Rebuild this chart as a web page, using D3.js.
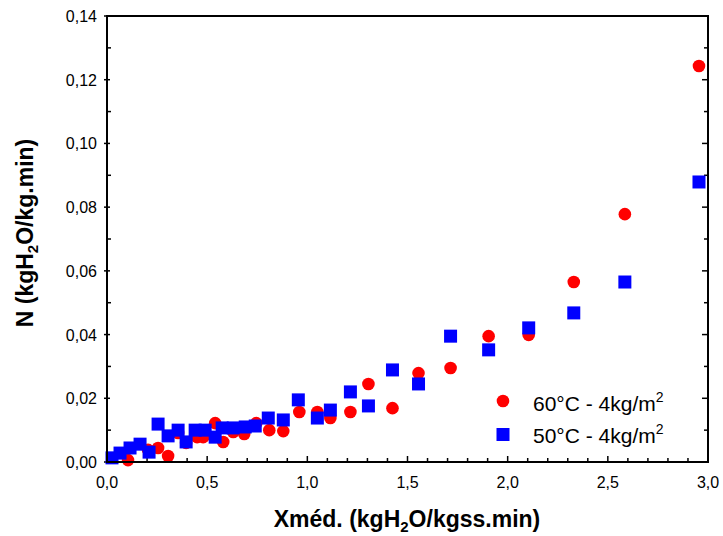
<!DOCTYPE html>
<html>
<head>
<meta charset="utf-8">
<script src="https://cdn.jsdelivr.net/npm/d3@7"></script>
<style>
  body { margin: 0; background: #fff; }
  svg { display: block; font-family: "Liberation Sans", Arial, sans-serif; }
</style>
</head>
<body>
<div id="chart"></div>
<script>
// values
const redX = [0.105, 0.205, 0.255, 0.305, 0.355, 0.395, 0.45, 0.48, 0.54, 0.58, 0.63, 0.685, 0.745, 0.81, 0.88,
  0.96, 1.05, 1.115, 1.215, 1.305, 1.425, 1.555, 1.715, 1.905, 2.105, 2.33, 2.585, 2.955];
const redY = [0.0006, 0.0038, 0.0044, 0.0019, 0.0091, 0.0060, 0.0078, 0.0078, 0.0122, 0.0063, 0.0094, 0.0088, 0.0122, 0.0100, 0.0097,
  0.0157, 0.0157, 0.0138, 0.0157, 0.0245, 0.0169, 0.0279, 0.0295, 0.0395, 0.0399, 0.0565, 0.0778, 0.1243];
const blueX = [0.025, 0.065, 0.115, 0.165, 0.21, 0.255, 0.305, 0.355, 0.395, 0.44, 0.49, 0.54, 0.575, 0.63, 0.69, 0.74,
  0.805, 0.88, 0.955, 1.05, 1.115, 1.215, 1.305, 1.425, 1.555, 1.715, 1.905, 2.105, 2.33, 2.585, 2.955];
const blueY = [0.0013, 0.0028, 0.0044, 0.0056, 0.0031, 0.0119, 0.0082, 0.0100, 0.0063, 0.0100, 0.0100, 0.0078, 0.0107, 0.0107, 0.0110, 0.0113,
  0.0138, 0.0132, 0.0195, 0.0138, 0.0163, 0.0220, 0.0176, 0.0289, 0.0245, 0.0395, 0.0352, 0.0421, 0.0468, 0.0565, 0.0879];
const seriesNames = ["60°C - 4kg/m", "50°C - 4kg/m"];
const xTicks = [0, 0.5, 1.0, 1.5, 2.0, 2.5, 3.0];
const yTicks = [0, 0.02, 0.04, 0.06, 0.08, 0.10, 0.12, 0.14];

const W = 723, H = 536;
const m = { left: 107, right: 15, top: 16, bottom: 74 };

const svg = d3.select("#chart").append("svg").attr("width", W).attr("height", H);

const x = d3.scaleLinear().domain([0, 3]).range([m.left, W - m.right]);
const y = d3.scaleLinear().domain([0, 0.14]).range([H - m.bottom, m.top]);
const comma = d => d3.format(".1f")(d).replace(".", ",");
const comma2 = d => d3.format(".2f")(d).replace(".", ",");

// ── Ticks ─────────────────────────────────────────────────────────────
const xMinor = d3.range(0, 3.0001, 0.1);
const yMinor = d3.range(0, 0.14001, 0.01);

const tickG = svg.append("g").attr("stroke", "#000").attr("stroke-width", 1.5);
xMinor.forEach((v, i) => {
  const len = i % 5 === 0 ? 6 : 4;
  tickG.append("line").attr("x1", x(v)).attr("x2", x(v))
    .attr("y1", y(0)).attr("y2", y(0) - len);
});
yMinor.forEach((v, i) => {
  const major = i % 2 === 0;
  tickG.append("line").attr("x1", major ? x(0) - 3 : x(0)).attr("x2", x(0) + (major ? 3 : 4))
    .attr("y1", y(v)).attr("y2", y(v));
  tickG.append("line").attr("x1", x(3)).attr("x2", x(3) - (major ? 6 : 4))
    .attr("y1", y(v)).attr("y2", y(v));
});

// ── Tick labels ───────────────────────────────────────────────────────
svg.append("g").selectAll("text").data(xTicks).join("text")
  .attr("x", d => x(d)).attr("y", y(0) + 26)
  .attr("text-anchor", "middle").attr("font-size", 16).text(comma);

svg.append("g").selectAll("text").data(yTicks).join("text")
  .attr("x", x(0) - 10).attr("y", d => y(d) + 6)
  .attr("text-anchor", "end").attr("font-size", 16).text(comma2);

// ── Points ────────────────────────────────────────────────────────────
const red = d3.zip(redX, redY), blue = d3.zip(blueX, blueY);
svg.append("g").selectAll("circle").data(red).join("circle")
  .attr("cx", d => x(d[0])).attr("cy", d => y(d[1])).attr("r", 6.3)
  .attr("fill", "#ff0000");
svg.append("g").selectAll("rect").data(blue).join("rect")
  .attr("x", d => x(d[0]) - 6.5).attr("y", d => y(d[1]) - 6.5)
  .attr("width", 13).attr("height", 13).attr("fill", "#0000ff");

// ── Frame ─────────────────────────────────────────────────────────────
svg.append("rect").attr("x", x(0)).attr("y", y(0.14))
  .attr("width", x(3) - x(0)).attr("height", y(0) - y(0.14))
  .attr("fill", "none").attr("stroke", "#000").attr("stroke-width", 2);

// ── Legend ────────────────────────────────────────────────────────────
const lg = svg.append("g");
lg.append("circle").attr("cx", 503).attr("cy", 401).attr("r", 6.3).attr("fill", "#ff0000");
lg.append("rect").attr("x", 496.5).attr("y", 428).attr("width", 13).attr("height", 13).attr("fill", "#0000ff");
seriesNames.forEach((s, i) => {
  const t = lg.append("text").attr("x", 533).attr("y", 411 + i * 32).attr("font-size", 21);
  t.append("tspan").text(s);
  t.append("tspan").attr("dy", -9).attr("font-size", 14).text("2");
});

// ── Axis titles ───────────────────────────────────────────────────────
const xt = svg.append("text").attr("x", 407).attr("y", 527)
  .attr("text-anchor", "middle").attr("font-size", 23).attr("font-weight", "bold");
xt.append("tspan").text("Xméd. (kgH");
xt.append("tspan").attr("dy", 5).attr("font-size", 15).text("2");
xt.append("tspan").attr("dy", -5).text("O/kgss.min)");

const yt = svg.append("text").attr("transform", "translate(33,233) rotate(-90)")
  .attr("text-anchor", "middle").attr("font-size", 23).attr("font-weight", "bold");
yt.append("tspan").text("N (kgH");
yt.append("tspan").attr("dy", 5).attr("font-size", 15).text("2");
yt.append("tspan").attr("dy", -5).text("O/kg.min)");
</script>
</body>
</html>
